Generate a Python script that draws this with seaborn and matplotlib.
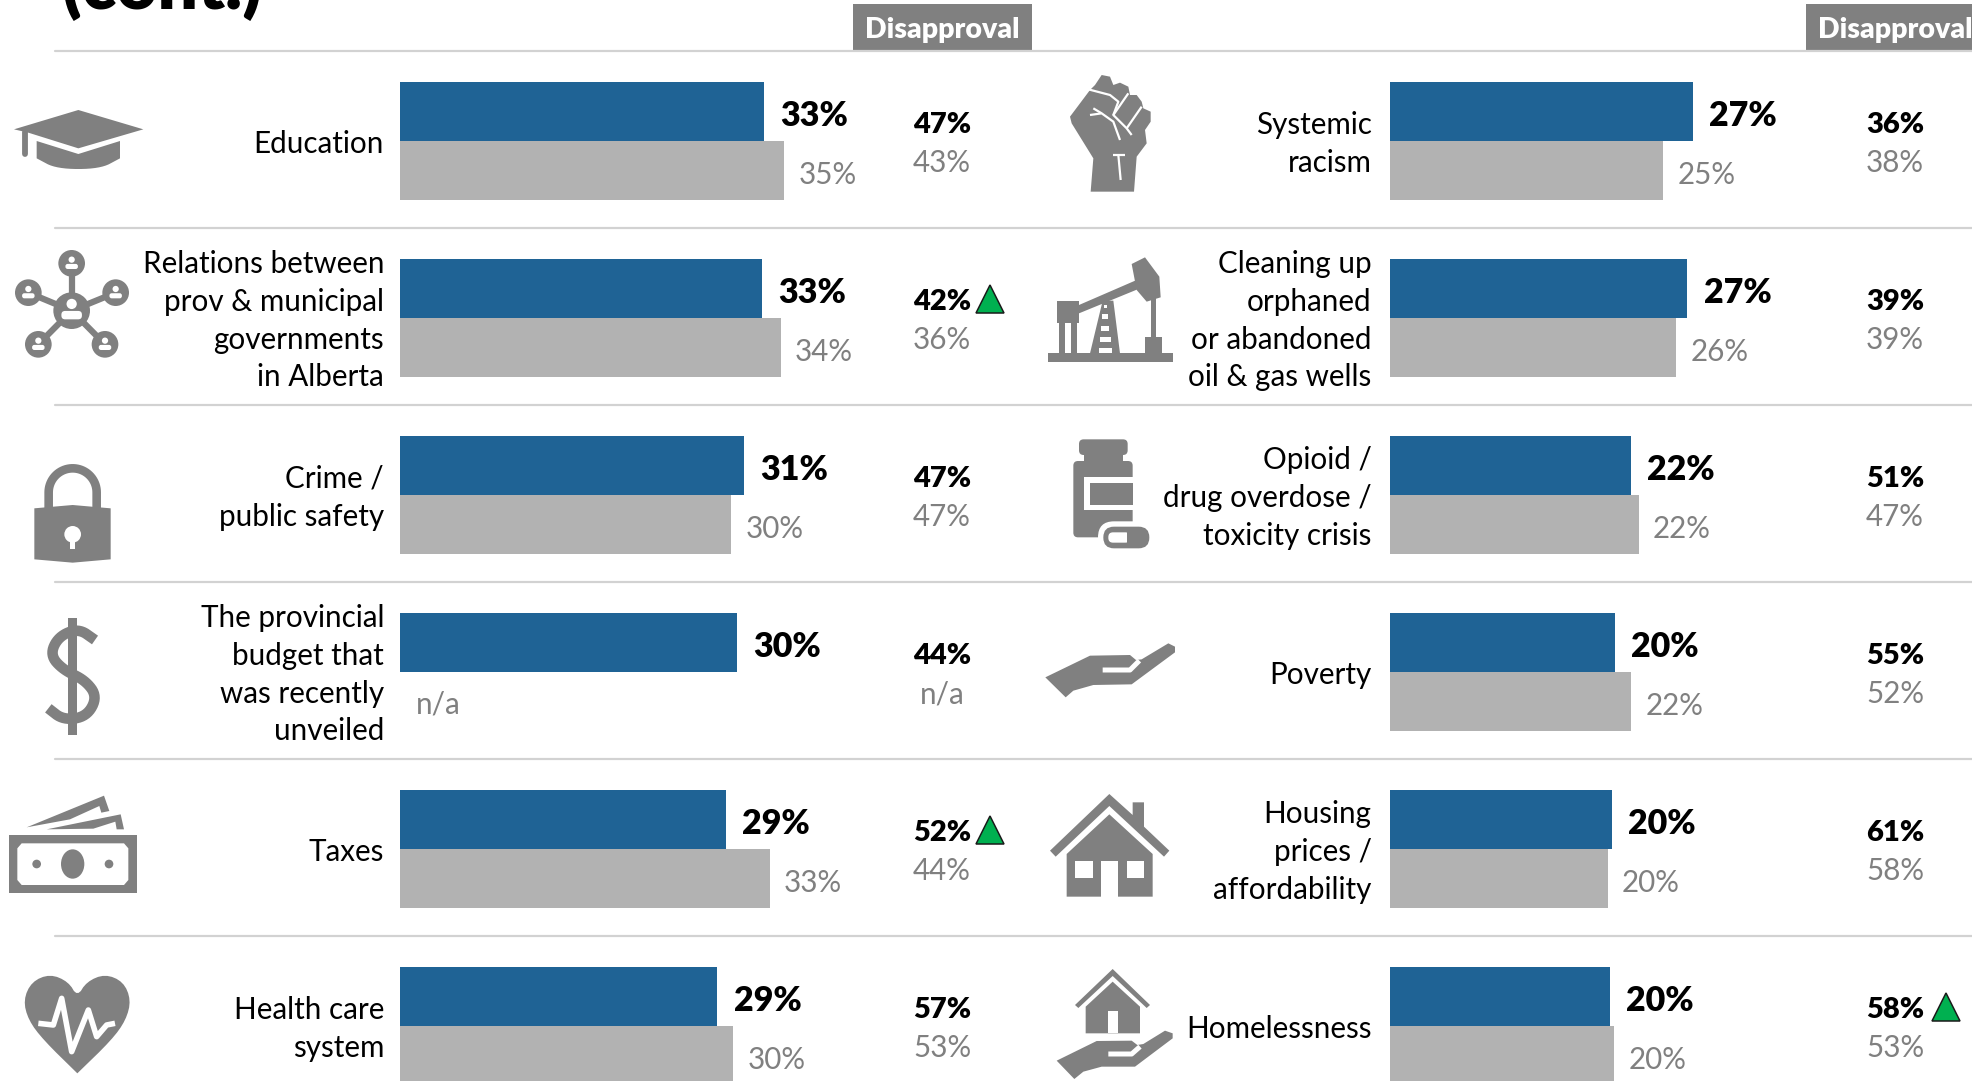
import numpy as np
import pandas as pd
import seaborn as sns
import matplotlib.pyplot as plt
from matplotlib.patches import Polygon, Rectangle, Circle, Ellipse, FancyBboxPatch

# left panel
topics_left = ["Education", "Relations between\nprov & municipal\ngovernments\nin Alberta",
               "Crime /\npublic safety", "The provincial\nbudget that\nwas recently\nunveiled",
               "Taxes", "Health care\nsystem"]
approve_left = [32.8, 32.6, 31.0, 30.4, 29.4, 28.6]
prev_left = [34.6, 34.3, 29.8, np.nan, 33.3, 30.0]
disapprove_left = ["47%", "42%", "47%", "44%", "52%", "57%"]
prev_dis_left = ["43%", "36%", "47%", "n/a", "44%", "53%"]
up_left = [1, 4]

# right panel
topics_right = ["Systemic\nracism", "Cleaning up\norphaned\nor abandoned\noil & gas wells",
                "Opioid /\ndrug overdose /\ntoxicity crisis", "Poverty",
                "Housing\nprices /\naffordability", "Homelessness"]
approve_right = [27.3, 26.8, 21.7, 20.3, 20.0, 19.8]
prev_right = [24.6, 25.8, 22.4, 21.7, 19.6, 20.2]
disapprove_right = ["36%", "39%", "51%", "55%", "61%", "58%"]
prev_dis_right = ["38%", "39%", "47%", "52%", "58%", "53%"]
up_right = [5]

BLUE = "#1f6395"
LIGHT = "#b2b2b2"
GREY = "#808080"
LINE = "#d2d2d2"
GREEN = "#00b050"

W, H = 1972, 1081
PX_PER_PCT = 11.1
ROW = 177
ROW_TOP = 52.5

sns.set_theme(style="white")
plt.rcParams["font.family"] = ["Lato", "DejaVu Sans"]

fig = plt.figure(figsize=(W / 100, H / 100), dpi=100, facecolor="white")

# overlay in pixel units for the header, rules and icons
bg = fig.add_axes([0, 0, 1, 1], zorder=0)
bg.set_xlim(0, W)
bg.set_ylim(H, 0)
bg.axis("off")


def z(ox, oy, pts):
    # zoomed crop coordinates (3x) back to full picture pixels
    return [(ox + x / 3, oy + y / 3) for x, y in pts]


def smooth(pts, n=3):
    p = np.array(pts, dtype=float)
    for _ in range(n):
        q = p[:-1] * 0.75 + p[1:] * 0.25
        r = p[:-1] * 0.25 + p[1:] * 0.75
        p = np.vstack([p[0], np.column_stack([q, r]).reshape(-1, 2), p[-1]])
    return p


def poly(ox, oy, pts, color=GREY):
    bg.add_patch(Polygon(z(ox, oy, pts), closed=True, fc=color, ec="none"))


def rect(ox, oy, x0, y0, x1, y1, color=GREY):
    bg.add_patch(Rectangle((ox + x0 / 3, oy + y0 / 3), (x1 - x0) / 3, (y1 - y0) / 3, fc=color, ec="none"))


def circ(ox, oy, x, y, r, color=GREY):
    bg.add_patch(Circle((ox + x / 3, oy + y / 3), r / 3, fc=color, ec="none"))


def stroke(ox, oy, pts, lw, color=GREY, cap="butt"):
    p = np.array(z(ox, oy, pts))
    order = 3 if color == "white" else 0.5
    bg.plot(p[:, 0], p[:, 1], color=color, lw=lw, solid_capstyle=cap, solid_joinstyle="round", zorder=order)


def rrect(ox, oy, x0, y0, x1, y1, rad, color=GREY):
    rad = rad / 3
    bg.add_patch(FancyBboxPatch((ox + x0 / 3 + rad, oy + y0 / 3 + rad), (x1 - x0) / 3 - 2 * rad,
                                (y1 - y0) / 3 - 2 * rad, boxstyle=f"round,pad={rad},rounding_size={rad}",
                                fc=color, ec="none"))


def person(ox, oy, x, y, s):
    circ(ox, oy, x, y - 13 * s, 11 * s, "white")
    rrect(ox, oy, x - 22 * s, y + 2 * s, x + 22 * s, y + 20 * s, 8 * s, "white")


def icon_cap():
    poly(0, 60, [(42, 208), (235, 150), (430, 208), (235, 265), (85, 218)])
    stroke(0, 60, [(75, 215), (75, 282)], 4.2, cap="round")
    base = smooth([(360, 295), (300, 327), (170, 327), (110, 295)])
    poly(0, 60, [(110, 243), (235, 282), (360, 243)] + [tuple(b) for b in base])


def icon_network():
    c = (215, 752)
    nodes = [(215, 610), (85, 698), (347, 698), (115, 853), (315, 853)]
    for n in nodes:
        stroke(0, 60, [c, n], 4.5)
        circ(0, 60, n[0], n[1], 40)
        person(0, 60, n[0], n[1], 0.85)
    circ(0, 60, c[0], c[1], 55)
    person(0, 60, c[0], c[1] - 2, 1.4)


def icon_lock():
    t = np.linspace(np.pi, 2 * np.pi, 40)
    arc = [(218 + 72 * np.cos(a), 157 + 72 * np.sin(a)) for a in t]
    stroke(0, 440, [(146, 210)] + arc + [(290, 210)], 6.2)
    poly(0, 440, [(103, 205), (218, 195), (332, 205), (332, 358), (218, 368), (103, 358)])
    circ(0, 440, 218, 283, 25, "white")
    rect(0, 440, 210, 290, 226, 327, "white")


def icon_dollar():
    rect(0, 440, 205, 533, 230, 885)
    s = smooth([(285, 600), (235, 565), (175, 590), (150, 645), (190, 690), (255, 720),
                (292, 770), (260, 830), (190, 840), (145, 805)])
    stroke(0, 440, s, 7.6)


def icon_money():
    rect(0, 780, 26, 165, 410, 340)
    poly(0, 780, [(65, 190), (372, 190), (385, 205), (385, 300), (372, 315), (65, 315), (52, 300), (52, 205)], "white")
    bg.add_patch(Ellipse((218 / 3, 780 + 252 / 3), 70 / 3, 88 / 3, fc=GREY, ec="none"))
    circ(0, 780, 110, 252, 13)
    circ(0, 780, 327, 252, 13)
    poly(0, 780, [(80, 142), (312, 47), (328, 93), (304, 98), (298, 78), (210, 118)])
    poly(0, 780, [(140, 148), (362, 103), (372, 148), (350, 148), (346, 125), (280, 146)])


def icon_heart():
    pts = smooth([(232, 880), (130, 780), (85, 720), (70, 660), (95, 605), (150, 582), (205, 605), (232, 650),
                  (260, 605), (315, 582), (370, 605), (393, 660), (378, 720), (335, 780), (232, 880)], 2)
    poly(0, 780, [tuple(p) for p in pts])
    stroke(0, 780, [(115, 730), (160, 735), (185, 655), (215, 815), (265, 690), (290, 770), (320, 735), (345, 730)],
           4, "white")


def icon_fist():
    pts = [(195, 75), (215, 45), (240, 50), (250, 75), (270, 68), (295, 80), (300, 105), (320, 105), (335, 125),
           (340, 145), (362, 155), (362, 185), (345, 210), (350, 250), (320, 290), (312, 395), (182, 395),
           (190, 295), (125, 190), (120, 170), (180, 90)]
    poly(1030, 60, pts)
    for line in [[(175, 88), (240, 105), (265, 125), (250, 165)], [(295, 100), (250, 165), (290, 205), (305, 225)],
                 [(335, 140), (290, 205)], [(180, 165), (215, 160), (250, 185), (270, 240)],
                 [(265, 285), (272, 360)], [(250, 285), (285, 285)], [(190, 145), (215, 160)]]:
        stroke(1030, 60, line, 1.6, "white")


def icon_oil():
    ox, oy = 1030, 60
    rect(ox, oy, 53, 880, 430, 905)
    rect(ox, oy, 80, 722, 147, 788)
    rect(ox, oy, 87, 788, 105, 880)
    rect(ox, oy, 122, 788, 140, 880)
    poly(ox, oy, [(147, 735), (320, 660), (330, 685), (147, 760)])
    poly(ox, oy, [(218, 722), (250, 722), (270, 880), (180, 880)])
    for y0, y1, hw in [(735, 745, 5), (762, 778, 9), (797, 812, 12), (830, 846, 16), (864, 880, 19)]:
        rect(ox, oy, 226 - hw, y0, 226 + hw, y1, "white")
    poly(ox, oy, [(305, 612), (345, 592), (388, 650), (392, 712), (350, 725), (320, 690)])
    rect(ox, oy, 362, 715, 378, 835)
    rect(ox, oy, 345, 832, 395, 880)


def icon_pill():
    ox, oy = 1030, 420
    rrect(ox, oy, 147, 58, 293, 105, 14)
    rect(ox, oy, 162, 100, 278, 128)
    rrect(ox, oy, 130, 123, 308, 352, 14)
    rect(ox, oy, 163, 172, 312, 270, "white")
    rect(ox, oy, 179, 188, 310, 255)
    rrect(ox, oy, 204, 304, 374, 400, 48, "white")
    rrect(ox, oy, 220, 320, 358, 385, 32)
    rrect(ox, oy, 235, 337, 300, 368, 14, "white")
    rect(ox, oy, 290, 335, 310, 370)


def icon_hand(ox, oy, pts, band):
    poly(ox, oy, pts)
    stroke(ox, oy, band, 3.6, "white")


def icon_house():
    ox, oy = 1030, 770
    poly(ox, oy, [(60, 242), (238, 72), (308, 135), (308, 97), (342, 97), (342, 170), (418, 242), (402, 260),
                  (238, 108), (77, 260)])
    poly(ox, oy, [(110, 252), (238, 133), (368, 252), (368, 380), (110, 380)])
    rect(ox, oy, 136, 273, 188, 325, "white")
    rect(ox, oy, 290, 273, 342, 325, "white")
    rect(ox, oy, 213, 273, 265, 380, "white")


def icon_shelter():
    ox, oy = 1030, 770
    poly(ox, oy, [(135, 705), (248, 597), (360, 705), (350, 714), (248, 618), (145, 714)])
    poly(ox, oy, [(167, 710), (248, 635), (330, 710), (330, 790), (167, 790)])
    rect(ox, oy, 233, 722, 265, 790, "white")
    icon_hand(ox, oy, [(80, 872), (200, 813), (305, 812), (322, 825), (340, 822), (405, 782), (428, 790),
                       (428, 805), (315, 890), (215, 890), (160, 905), (133, 927)],
              [(235, 852), (305, 852), (330, 830)])


for i in range(6):
    bg.plot([55, W], [51 + ROW * i] * 2, color=LINE, lw=1.6)

for x0, x1 in [(853, 1032), (1806, W)]:
    bg.add_patch(Rectangle((x0, 4), x1 - x0, 47, fc=GREY, ec="none"))
bg.text(942, 30, "Disapproval", color="white", fontsize=20.5, fontweight="heavy", ha="center", va="center")
bg.text(1895, 30, "Disapproval", color="white", fontsize=20.5, fontweight="heavy", ha="center", va="center")
bg.text(62, 9, "(cont.)", color="black", fontsize=51, fontweight="heavy", ha="left", va="baseline")

icon_cap()
icon_network()
icon_lock()
icon_dollar()
icon_money()
icon_heart()
icon_fist()
icon_oil()
icon_pill()
icon_hand(1030, 420, [(46, 772), (180, 707), (300, 705), (318, 720), (335, 718), (415, 670), (435, 680),
                      (435, 697), (305, 793), (190, 795), (130, 812), (107, 832)],
          [(218, 750), (300, 750), (328, 722)])
icon_house()
icon_shelter()


def draw_panel(x_px, width_px, topics, approve, prev, dis, prev_dis, up, dis_px, up_px, pad):
    ax = fig.add_axes([x_px / W, (H - (ROW_TOP + 6 * ROW)) / H, width_px / W, 6 * ROW / H], zorder=2)
    ax.patch.set_alpha(0)
    df = pd.DataFrame({
        "topic": topics * 2,
        "value": approve + prev,
        "wave": ["now"] * 6 + ["before"] * 6,
    })
    sns.barplot(data=df, y="topic", x="value", hue="wave", hue_order=["now", "before"], order=topics,
                palette=[BLUE, LIGHT], width=0.663, saturation=1, linewidth=0, legend=False, ax=ax)
    ax.set_xlim(0, width_px / PX_PER_PCT)
    ax.set_ylim(5.5, -0.5)
    ax.set_xlabel("")
    ax.set_ylabel("")
    ax.set_xticks([])
    ax.set_yticks([])
    sns.despine(ax=ax, left=True, bottom=True)

    for i in range(6):
        ax.annotate(topics[i], (0, i), xytext=(-pad, -1.9), textcoords="offset points", fontsize=21.3,
                    color="black", ha="right", va="center", multialignment="right", linespacing=1.43,
                    annotation_clip=False)
        ax.text(approve[i] + 1.45, i - 0.14, f"{approve[i]:.0f}%", fontsize=24.5, fontweight="heavy",
                color="black", va="center", ha="left")
        if np.isnan(prev[i]):
            ax.text(1.45, i + 0.186, "n/a", fontsize=21.3, color=GREY, va="center", ha="left")
        else:
            ax.text(prev[i] + 1.3, i + 0.19, f"{prev[i]:.0f}%", fontsize=21.3, color=GREY,
                    va="center", ha="left")
        x = (dis_px - x_px) / PX_PER_PCT
        ax.text(x, i - 0.09, dis[i], fontsize=21, fontweight="heavy", color="black", va="center", ha="center")
        ax.text(x, i + 0.126, prev_dis[i], fontsize=21.3, color=GREY, va="center", ha="center")
        if i in up:
            ax.plot((up_px - x_px) / PX_PER_PCT, i - 0.108, marker="^", ms=20, mfc=GREEN, mec="#1a1a1a", mew=1.1,
                    clip_on=False)
    return ax


draw_panel(400, 666, topics_left, approve_left, prev_left, disapprove_left, prev_dis_left, up_left, 942, 990, 11.5)
draw_panel(1390, 582, topics_right, approve_right, prev_right, disapprove_right, prev_dis_right, up_right, 1895, 1946, 13.3)

fig.savefig("out.png", dpi=100, facecolor="white")
